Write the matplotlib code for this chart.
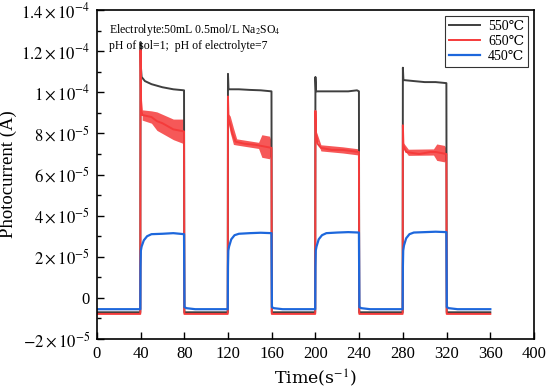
import matplotlib.pyplot as plt
import numpy as np
from matplotlib.ticker import FixedLocator, MultipleLocator

plt.rcParams['font.family'] = ['Liberation Serif', 'DejaVu Serif']
plt.rcParams['mathtext.fontset'] = 'stix'

# values in units of 1e-5 A
t_550 = [0, 39.8, 40, 40.4, 41, 44, 50, 60, 70, 79.8, 80.1,
         119.8, 120, 120.5, 130, 140, 150, 159.8, 160.1,
         199.8, 200, 200.5, 210, 220, 230, 238, 239.8, 240.1,
         279.8, 280, 280.5, 290, 300, 310, 319.8, 320.1, 360]
i_550 = [-0.7, -0.7, 12.45, 11.2, 10.75, 10.55, 10.4, 10.25, 10.15, 10.1, -0.7,
         -0.7, 10.9, 10.15, 10.15, 10.12, 10.1, 10.05, -0.7,
         -0.7, 10.75, 10.05, 10.05, 10.05, 10.05, 10.1, 10.05, -0.7,
         -0.7, 11.2, 10.6, 10.55, 10.5, 10.5, 10.45, -0.7, -0.7]

t_650 = [0, 39.8, 40, 40.5, 41.5, 50, 55, 60, 70, 79.8, 80.1,
         119.8, 120, 120.5, 122, 124, 127, 135, 145, 150, 159.8, 160.1,
         199.8, 200, 200.5, 202, 205, 215, 225, 239.8, 240.1,
         279.8, 280, 280.5, 283, 295, 305, 310, 319.8, 320.1, 360]
i_650 = [-0.78, -0.78, 12.05, 9.6, 8.9, 8.8, 8.6, 8.5, 8.2, 8.1, -0.78,
         -0.78, 9.8, 8.7, 8.45, 8.0, 7.6, 7.5, 7.45, 7.4, 7.3, -0.78,
         -0.78, 9.1, 8.0, 7.5, 7.3, 7.2, 7.2, 7.1, -0.78,
         -0.78, 8.4, 7.4, 7.1, 7.0, 7.1, 7.1, 7.0, -0.78, -0.78]

# noisy band of the 650 trace during illumination: time, half-width
band_t = [[41.5, 50, 55, 70, 79.8],
          [120.5, 122, 125, 128, 148, 151, 158, 159.8],
          [200.5, 205, 225, 239.8],
          [280.5, 285, 308, 311, 318, 319.8]]
band_w = [[0.25, 0.3, 0.45, 0.5, 0.6],
          [0.25, 0.4, 0.4, 0.15, 0.15, 0.55, 0.55, 0.3],
          [0.15, 0.15, 0.15, 0.15],
          [0.15, 0.15, 0.15, 0.4, 0.4, 0.25]]

t_450 = [0, 39.8, 40, 40.3, 41, 43, 46, 50, 60, 70, 79.8, 80.2, 82, 90,
         119.8, 120, 120.3, 121, 123, 126, 130, 140, 150, 159.8, 160.2, 162, 170,
         199.8, 200, 200.3, 201, 203, 206, 210, 220, 230, 239.8, 240.2, 242, 250,
         279.8, 280, 280.3, 281, 283, 286, 290, 300, 310, 319.8, 320.2, 322, 330, 360]
i_450 = [-0.55, -0.55, 1.5, 2.3, 2.5, 2.8, 3.0, 3.1, 3.12, 3.15, 3.1, -0.45, -0.5, -0.55,
         -0.55, 1.5, 2.3, 2.5, 2.85, 3.05, 3.12, 3.15, 3.17, 3.15, -0.45, -0.5, -0.55,
         -0.55, 1.5, 2.3, 2.5, 2.85, 3.05, 3.15, 3.18, 3.2, 3.18, -0.45, -0.5, -0.55,
         -0.55, 1.5, 2.3, 2.55, 2.9, 3.1, 3.18, 3.2, 3.22, 3.2, -0.45, -0.5, -0.55, -0.55]

y_ticks = [-2, 0, 2, 4, 6, 8, 10, 12, 14]
y_labels = [r'$-2\times10^{-5}$', '0', r'$2\times10^{-5}$', r'$4\times10^{-5}$',
            r'$6\times10^{-5}$', r'$8\times10^{-5}$', r'$1\times10^{-4}$',
            r'$1.2\times10^{-4}$', r'$1.4\times10^{-4}$']

c_550 = '#3f3f3f'
c_650 = '#f53b3b'
c_450 = '#1d67dc'

fig = plt.figure(figsize=(5.5, 3.91), dpi=100)
ax = fig.add_axes([0.176, 0.133, 0.795, 0.841])

s = 1e-5
ax.plot(t_550, np.array(i_550) * s, color=c_550, lw=1.4, label='550℃')
ax.plot(t_650, np.array(i_650) * s, color=c_650, lw=1.4, label='650℃')
for bt, bw in zip(band_t, band_w):
    mid = np.interp(bt, t_650, i_650)
    ax.fill_between(bt, (mid - np.array(bw)) * s, (mid + np.array(bw)) * s,
                    color=c_650, lw=0, alpha=0.85)
ax.plot(t_450, np.array(i_450) * s, color=c_450, lw=1.6, label='450℃')

ax.set_xlim(0, 400)
ax.set_ylim(-2e-5, 1.4e-4)
ax.xaxis.set_major_locator(MultipleLocator(40))
ax.yaxis.set_major_locator(FixedLocator(np.array(y_ticks) * s))
ax.set_yticklabels(y_labels)
ax.yaxis.set_minor_locator(MultipleLocator(1e-5))
ax.tick_params(direction='in', which='both', top=False, right=False, labelsize=12)
ax.tick_params(which='major', length=5, width=1, pad=5)
ax.tick_params(which='minor', length=3, width=1)
for sp in ax.spines.values():
    sp.set_linewidth(1.2)

ax.set_xlabel(r'Time(s$^{-1}$)', fontsize=12.5, family=['DejaVu Serif'])
ax.set_ylabel('Photocurrent (A)', fontsize=13.5)
ax.yaxis.set_label_coords(-0.183, 0.5)

ax.text(0.028, 0.965, 'Electrolyte:50mL 0.5mol/L Na$_2$SO$_4$', transform=ax.transAxes,
        fontsize=8.5, va='top')
ax.text(0.028, 0.91, 'pH of sol=1;  pH of electrolyte=7', transform=ax.transAxes,
        fontsize=8.5, va='top')

leg = ax.legend(loc='upper right', fontsize=10, fancybox=False, edgecolor='black',
                handlelength=2.2, handletextpad=0.6, borderaxespad=0.4,
                labelspacing=0.15, borderpad=0.3)
leg.get_frame().set_linewidth(0.8)

fig.savefig('out.png', dpi=100)
